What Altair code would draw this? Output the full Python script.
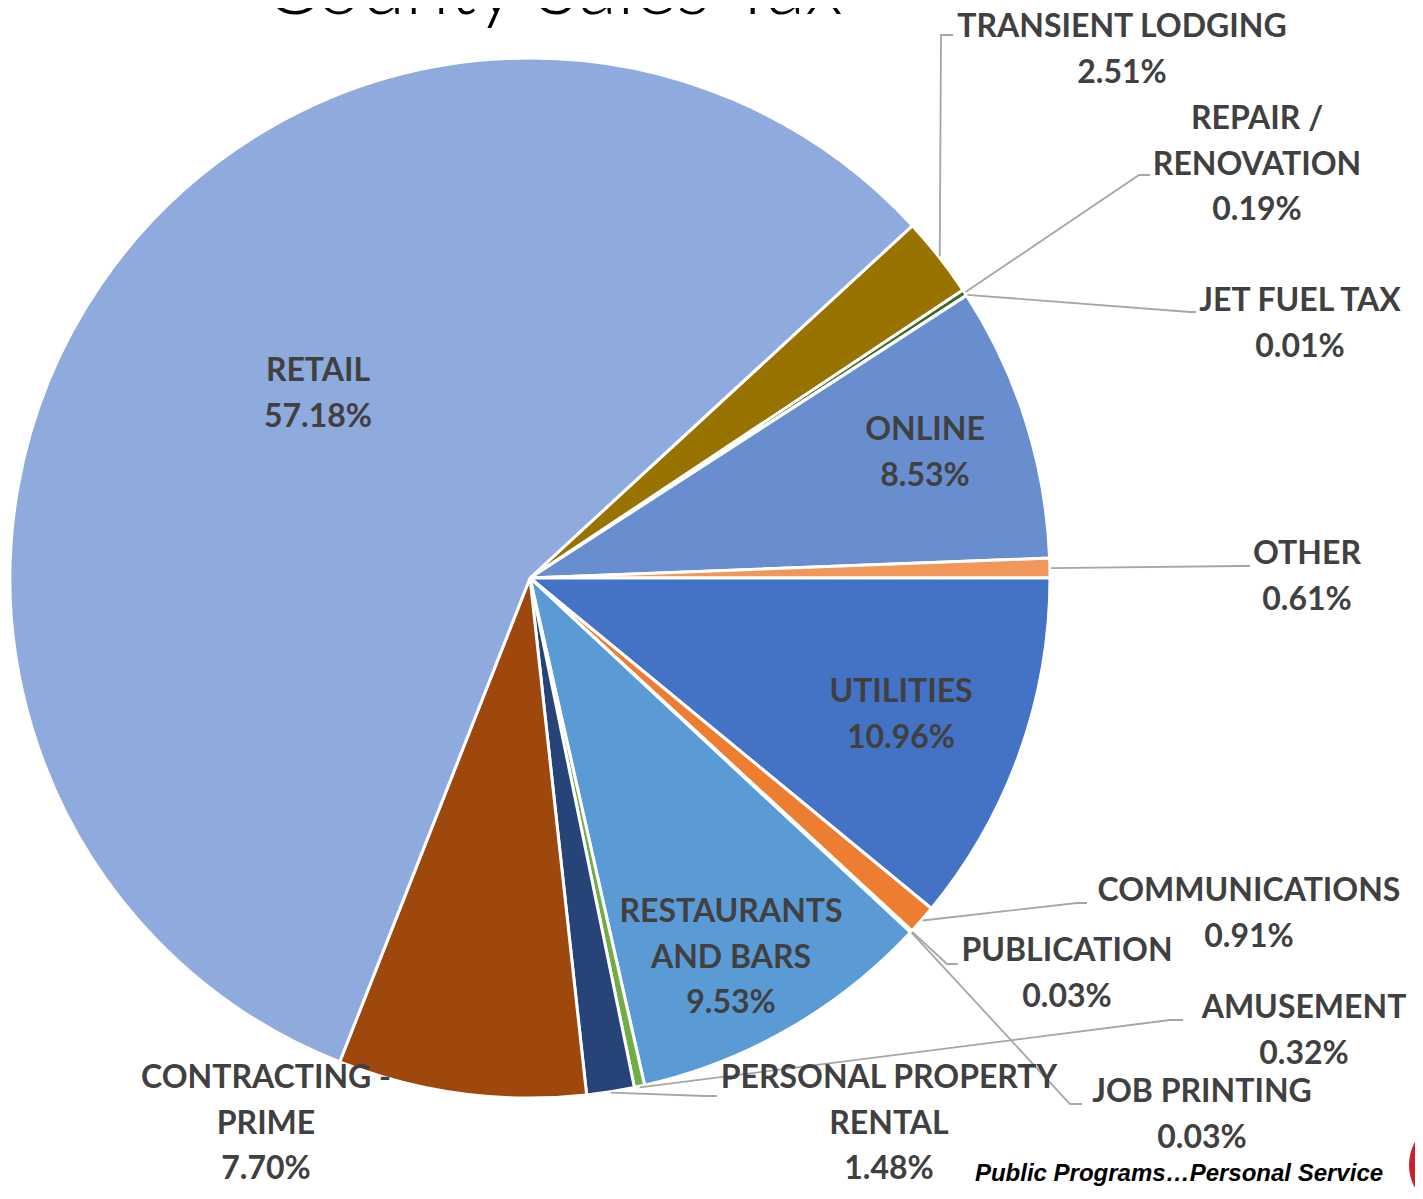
import math
import altair as alt
import numpy as np
import pandas as pd

# ---------------- data ----------------
categories = ["TRANSIENT LODGING", "REPAIR / RENOVATION", "JET FUEL TAX", "ONLINE", "OTHER",
              "UTILITIES", "COMMUNICATIONS", "PUBLICATION", "JOB PRINTING",
              "RESTAURANTS AND BARS", "AMUSEMENT", "PERSONAL PROPERTY RENTAL",
              "CONTRACTING - PRIME", "RETAIL"]
values = [2.51, 0.19, 0.01, 8.53, 0.61, 10.96, 0.91, 0.03, 0.03, 9.53, 0.32, 1.48, 7.70, 57.18]
label_names = ["TRANSIENT LODGING", "REPAIR /\nRENOVATION", "JET FUEL TAX", "ONLINE", "OTHER",
               "UTILITIES", "COMMUNICATIONS", "PUBLICATION", "JOB PRINTING",
               "RESTAURANTS\nAND BARS", "AMUSEMENT", "PERSONAL PROPERTY\nRENTAL",
               "CONTRACTING -\nPRIME", "RETAIL"]
title_text = "County Sales Tax"
footer_text = "Public Programs\u2026Personal Service"

# ---------------- styles / layout ----------------
colors = ["#997300", "#43682B", "#255E91", "#698ED0", "#F1975A", "#4472C4", "#ED7D31",
          "#A5A5A5", "#FFC000", "#5B9BD5", "#70AD47", "#264478", "#9E480E", "#8FAADC"]
# label positions (page pixels): x = centre, y = centre of the first line
label_x = [1122, 1257, 1300, 925, 1307, 901, 1249, 1067, 1202, 731, 1304, 889, 266, 318]
label_y = [27, 119, 301, 430, 554, 692, 891, 951, 1092, 912, 1008, 1078, 1078, 371]
# leader line elbow and end points (None = no leader line)
elbow_x = [941, 1139, 1190, None, 1240, None, 1077, 947, 1070, None, 1170, 705, None, None]
elbow_y = [35, 175, 312, None, 566, None, 903, 964, 1104, None, 1020, 1096, None, None]
end_x = [953, 1150, 1196, None, 1250, None, 1087, 958, 1082, None, 1183, 717, None, None]
end_y = [35, 175, 312, None, 566, None, 903, 964, 1104, None, 1020, 1096, None, None]

# view: page pixels 0..VW x 0..VH (negative padding removes the page margin offset)
VW, VH = 1415, 1187
CX, CY, R = 530, 578, 520
START = math.radians(47.34)
total = float(sum(values))
FONT = "Lato"
TXT = "#404040"

xs = alt.Scale(domain=[0, VW], nice=False, zero=False)
ys = alt.Scale(domain=[0, VH], nice=False, zero=False, reverse=True)

n = len(categories)
pie_df = pd.DataFrame({"cat": categories, "value": values, "idx": list(range(n))})

pie = alt.Chart(pie_df).mark_arc(outerRadius=R, stroke="white", strokeWidth=3).encode(
    theta=alt.Theta("value:Q", stack=True,
                    scale=alt.Scale(domain=[0, total], range=[START, START + 2 * math.pi])),
    color=alt.Color("cat:N", scale=alt.Scale(domain=categories, range=colors), legend=None),
    order=alt.Order("idx:Q"),
    x=alt.value(CX), y=alt.value(CY),
)

# leader lines: from slice mid-angle on the rim to the label
vals = np.array(values)
mid = START + (np.cumsum(vals) - vals / 2) / total * 2 * math.pi
rows = []
for i in range(n):
    if elbow_x[i] is None:
        continue
    sx = CX + (R + 1) * math.sin(mid[i])
    sy = CY - (R + 1) * math.cos(mid[i])
    for k, (px, py) in enumerate([(sx, sy), (elbow_x[i], elbow_y[i]), (end_x[i], end_y[i])]):
        rows.append({"cat": categories[i], "seq": k, "px": px, "py": py})
line_df = pd.DataFrame(rows)
lines = alt.Chart(line_df).mark_line(color="#A6A6A6", strokeWidth=1.8).encode(
    x=alt.X("px:Q", scale=xs, axis=None),
    y=alt.Y("py:Q", scale=ys, axis=None),
    detail="cat:N",
    order="seq:Q",
)

lab_df = pd.DataFrame({
    "label": [f"{nm}\n{v:.2f}%" for nm, v in zip(label_names, values)],
    "lx": label_x, "ly": label_y,
})
labels = alt.Chart(lab_df).mark_text(
    font=FONT, fontWeight="bold", fontSize=32, color=TXT, lineBreak="\n",
    lineHeight=45.5, align="center", baseline="middle",
).encode(
    x=alt.X("lx:Q", scale=xs, axis=None),
    y=alt.Y("ly:Q", scale=ys, axis=None),
    text="label:N",
)

title = alt.Chart(pd.DataFrame({"t": [title_text], "tx": [553], "ty": [14]})).mark_text(
    font=FONT, fontWeight=300, fontSize=80, color="#000000", align="center",
    baseline="alphabetic",
).encode(x=alt.X("tx:Q", scale=xs, axis=None), y=alt.Y("ty:Q", scale=ys, axis=None), text="t:N")

footer = alt.Chart(pd.DataFrame({"t": [footer_text], "tx": [1179], "ty": [1174]})).mark_text(
    font="Liberation Sans", fontWeight="bold", fontStyle="italic", fontSize=24,
    color="#000000", align="center", baseline="middle",
).encode(x=alt.X("tx:Q", scale=xs, axis=None), y=alt.Y("ty:Q", scale=ys, axis=None), text="t:N")

seal_df = pd.DataFrame({"sx": [1457], "sy": [1165]})
seal = alt.Chart(seal_df).mark_point(shape="circle", filled=True, color="#C8202E",
                                     size=9200, opacity=1).encode(
    x=alt.X("sx:Q", scale=xs, axis=None), y=alt.Y("sy:Q", scale=ys, axis=None))
seal_ring = alt.Chart(seal_df).mark_point(shape="circle", filled=False, color="white",
                                          size=6000, strokeWidth=2, opacity=1).encode(
    x=alt.X("sx:Q", scale=xs, axis=None), y=alt.Y("sy:Q", scale=ys, axis=None))

chart = alt.layer(pie, lines, labels, title, footer, seal, seal_ring).properties(
    width=VW, height=VH,
    padding={"left": -8, "top": -8, "right": 0, "bottom": 0},
    autosize=alt.AutoSizeParams(type="none"),
    background="white",
).configure_view(stroke=None)

chart.save("out.html", embed_options={"renderer": "svg", "actions": False})
